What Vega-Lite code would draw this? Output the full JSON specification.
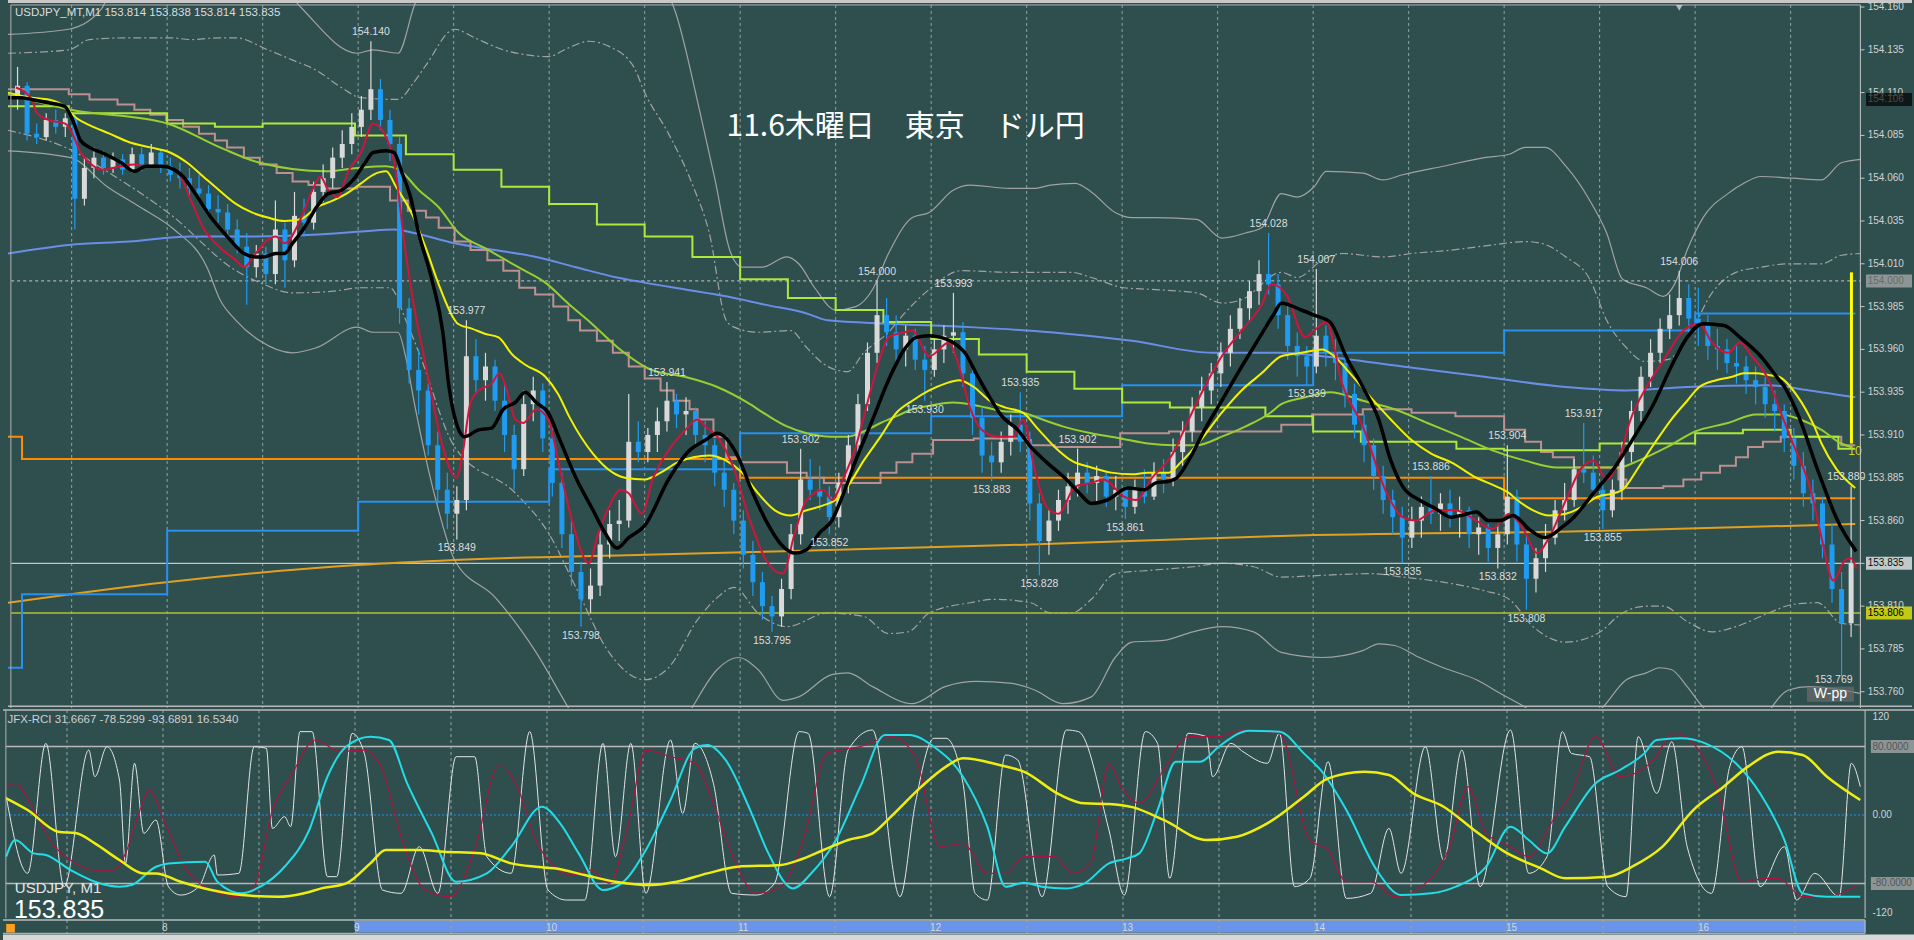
{
"$schema":"https://vega.github.io/schema/vega-lite/v6.json",
"background":"#2f4f4f","padding":0,"spacing":0,"bounds":"flush",
"config":{"view":{"stroke":null},"axis":{"disable":true},"legend":{"disable":true},"text":{"font":"Liberation Sans"}},
"datasets":{
"one":[{}],
"g":[{"t":-30},{"t":0},{"t":30},{"t":60},{"t":90},{"t":120},{"t":150},{"t":180},{"t":210},{"t":240},{"t":270},{"t":300},{"t":330},{"t":360},{"t":390},{"t":420},{"t":450},{"t":480},{"t":510}],
"hr":[{"t":0,"s":"8"},{"t":60,"s":"9"},{"t":120,"s":"10"},{"t":180,"s":"11"},{"t":240,"s":"12"},{"t":300,"s":"13"},{"t":360,"s":"14"},{"t":420,"s":"15"},{"t":480,"s":"16"}],
"ax":[{"p":154.160},{"p":154.135},{"p":154.110},{"p":154.085},{"p":154.060},{"p":154.035},{"p":154.010},{"p":153.985},{"p":153.960},{"p":153.935},{"p":153.910},{"p":153.885},{"p":153.860},{"p":153.835},{"p":153.810},{"p":153.785},{"p":153.760}],
"bx":[{"p":154.106,"s":"154.106"},{"p":154.000,"s":"154.000"},{"p":153.835,"s":"153.835"},{"p":153.806,"s":"153.806"}],
"ob":[{"v":80,"s":"80.0000"},{"v":-80,"s":"-80.0000"}],
"ol":[{"v":115,"s":"120"},{"v":0,"s":"0.00"},{"v":-114,"s":"-120"}],
"lbl":[{"t":64,"p":154.140,"s":"154.140","k":"h"},{"t":94,"p":153.977,"s":"153.977","k":"h"},{"t":91,"p":153.849,"s":"153.849","k":"l"},{"t":130,"p":153.798,"s":"153.798","k":"l"},{"t":157,"p":153.941,"s":"153.941","k":"h"},{"t":190,"p":153.795,"s":"153.795","k":"l"},{"t":199,"p":153.902,"s":"153.902","k":"h"},{"t":208,"p":153.852,"s":"153.852","k":"l"},{"t":223,"p":154.000,"s":"154.000","k":"h"},{"t":247,"p":153.993,"s":"153.993","k":"h"},{"t":238,"p":153.930,"s":"153.930","k":"l"},{"t":268,"p":153.935,"s":"153.935","k":"h"},{"t":259,"p":153.883,"s":"153.883","k":"l"},{"t":274,"p":153.828,"s":"153.828","k":"l"},{"t":286,"p":153.902,"s":"153.902","k":"h"},{"t":301,"p":153.861,"s":"153.861","k":"l"},{"t":346,"p":154.028,"s":"154.028","k":"h"},{"t":361,"p":154.007,"s":"154.007","k":"h"},{"t":358,"p":153.939,"s":"153.939","k":"l"},{"t":397,"p":153.886,"s":"153.886","k":"h"},{"t":388,"p":153.835,"s":"153.835","k":"l"},{"t":421,"p":153.904,"s":"153.904","k":"h"},{"t":418,"p":153.832,"s":"153.832","k":"l"},{"t":427,"p":153.808,"s":"153.808","k":"l"},{"t":445,"p":153.917,"s":"153.917","k":"h"},{"t":451,"p":153.855,"s":"153.855","k":"l"},{"t":475,"p":154.006,"s":"154.006","k":"h"},{"t":527.5,"p":153.880,"s":"153.880","k":"h"},{"t":523.5,"p":153.772,"s":"153.769","k":"l"}],
"cd":[
{"t":-47,"o":154.108,"h":154.125,"l":154.100,"c":154.114},{"t":-44,"o":154.114,"h":154.116,"l":154.082,"c":154.086},{"t":-41,"o":154.086,"h":154.092,"l":154.080,"c":154.084},{"t":-38,"o":154.084,"h":154.098,"l":154.082,"c":154.094},{"t":-35,"o":154.094,"h":154.100,"l":154.086,"c":154.090},{"t":-32,"o":154.090,"h":154.098,"l":154.084,"c":154.095},{"t":-29,"o":154.095,"h":154.097,"l":154.030,"c":154.048},{"t":-26,"o":154.048,"h":154.072,"l":154.044,"c":154.066},{"t":-23,"o":154.066,"h":154.078,"l":154.060,"c":154.072},{"t":-20,"o":154.072,"h":154.076,"l":154.062,"c":154.066},{"t":-17,"o":154.066,"h":154.075,"l":154.063,"c":154.071},{"t":-14,"o":154.071,"h":154.074,"l":154.062,"c":154.065},{"t":-11,"o":154.065,"h":154.078,"l":154.063,"c":154.074},{"t":-8,"o":154.074,"h":154.078,"l":154.064,"c":154.068},{"t":-5,"o":154.068,"h":154.080,"l":154.066,"c":154.075},{"t":-2,"o":154.075,"h":154.077,"l":154.063,"c":154.067},
{"t":1,"o":154.067,"h":154.072,"l":154.058,"c":154.062},{"t":4,"o":154.062,"h":154.069,"l":154.054,"c":154.060},{"t":7,"o":154.060,"h":154.066,"l":154.050,"c":154.054},{"t":10,"o":154.054,"h":154.062,"l":154.046,"c":154.051},{"t":13,"o":154.051,"h":154.056,"l":154.038,"c":154.042},{"t":16,"o":154.042,"h":154.050,"l":154.034,"c":154.040},{"t":19,"o":154.040,"h":154.045,"l":154.026,"c":154.030},{"t":22,"o":154.030,"h":154.036,"l":154.016,"c":154.020},{"t":25,"o":154.020,"h":154.028,"l":153.986,"c":154.008},{"t":28,"o":154.008,"h":154.021,"l":154.002,"c":154.016},{"t":31,"o":154.016,"h":154.020,"l":153.998,"c":154.004},{"t":34,"o":154.004,"h":154.047,"l":153.998,"c":154.030},{"t":37,"o":154.030,"h":154.034,"l":153.996,"c":154.012},{"t":40,"o":154.012,"h":154.052,"l":154.008,"c":154.038},{"t":43,"o":154.038,"h":154.048,"l":154.026,"c":154.034},{"t":46,"o":154.034,"h":154.058,"l":154.030,"c":154.052},{"t":49,"o":154.052,"h":154.068,"l":154.046,"c":154.060},{"t":52,"o":154.060,"h":154.078,"l":154.054,"c":154.072},{"t":55,"o":154.072,"h":154.088,"l":154.066,"c":154.080},{"t":58,"o":154.080,"h":154.098,"l":154.074,"c":154.090},
{"t":61,"o":154.090,"h":154.108,"l":154.084,"c":154.100},{"t":64,"o":154.100,"h":154.140,"l":154.094,"c":154.112},{"t":67,"o":154.112,"h":154.118,"l":154.088,"c":154.094},{"t":70,"o":154.094,"h":154.100,"l":154.070,"c":154.080},{"t":73,"o":154.080,"h":154.084,"l":153.975,"c":153.984},{"t":76,"o":153.984,"h":153.990,"l":153.940,"c":153.948},{"t":79,"o":153.948,"h":153.960,"l":153.922,"c":153.936},{"t":82,"o":153.936,"h":153.940,"l":153.898,"c":153.904},{"t":85,"o":153.904,"h":153.912,"l":153.870,"c":153.878},{"t":88,"o":153.878,"h":153.888,"l":153.855,"c":153.864},{"t":91,"o":153.864,"h":153.880,"l":153.849,"c":153.872},{"t":94,"o":153.872,"h":153.977,"l":153.866,"c":153.956},{"t":97,"o":153.956,"h":153.966,"l":153.934,"c":153.942},{"t":100,"o":153.942,"h":153.958,"l":153.930,"c":153.950},{"t":103,"o":153.950,"h":153.954,"l":153.924,"c":153.930},{"t":106,"o":153.930,"h":153.940,"l":153.900,"c":153.910},{"t":109,"o":153.910,"h":153.916,"l":153.878,"c":153.890},{"t":112,"o":153.890,"h":153.936,"l":153.886,"c":153.928},{"t":115,"o":153.928,"h":153.944,"l":153.918,"c":153.936},{"t":118,"o":153.936,"h":153.940,"l":153.900,"c":153.908},
{"t":121,"o":153.908,"h":153.914,"l":153.874,"c":153.882},{"t":124,"o":153.882,"h":153.888,"l":153.844,"c":153.852},{"t":127,"o":153.852,"h":153.860,"l":153.822,"c":153.830},{"t":130,"o":153.830,"h":153.836,"l":153.798,"c":153.814},{"t":133,"o":153.814,"h":153.832,"l":153.806,"c":153.822},{"t":136,"o":153.822,"h":153.854,"l":153.816,"c":153.846},{"t":139,"o":153.846,"h":153.866,"l":153.838,"c":153.858},{"t":142,"o":153.858,"h":153.872,"l":153.848,"c":153.860},{"t":145,"o":153.860,"h":153.934,"l":153.856,"c":153.906},{"t":148,"o":153.906,"h":153.918,"l":153.894,"c":153.900},{"t":151,"o":153.900,"h":153.914,"l":153.894,"c":153.910},{"t":154,"o":153.910,"h":153.926,"l":153.900,"c":153.918},{"t":157,"o":153.918,"h":153.941,"l":153.912,"c":153.930},{"t":160,"o":153.930,"h":153.934,"l":153.914,"c":153.922},{"t":163,"o":153.922,"h":153.932,"l":153.910,"c":153.924},{"t":166,"o":153.924,"h":153.926,"l":153.904,"c":153.910},{"t":169,"o":153.910,"h":153.918,"l":153.894,"c":153.904},{"t":172,"o":153.904,"h":153.908,"l":153.880,"c":153.888},{"t":175,"o":153.888,"h":153.896,"l":153.868,"c":153.878},{"t":178,"o":153.878,"h":153.882,"l":153.852,"c":153.860},
{"t":181,"o":153.860,"h":153.866,"l":153.832,"c":153.840},{"t":184,"o":153.840,"h":153.848,"l":153.816,"c":153.824},{"t":187,"o":153.824,"h":153.830,"l":153.802,"c":153.810},{"t":190,"o":153.810,"h":153.816,"l":153.795,"c":153.804},{"t":193,"o":153.804,"h":153.826,"l":153.798,"c":153.820},{"t":196,"o":153.820,"h":153.858,"l":153.814,"c":153.852},{"t":199,"o":153.852,"h":153.902,"l":153.846,"c":153.884},{"t":202,"o":153.884,"h":153.896,"l":153.872,"c":153.878},{"t":205,"o":153.878,"h":153.892,"l":153.866,"c":153.874},{"t":208,"o":153.874,"h":153.880,"l":153.852,"c":153.862},{"t":211,"o":153.862,"h":153.888,"l":153.856,"c":153.882},{"t":214,"o":153.882,"h":153.910,"l":153.876,"c":153.904},{"t":217,"o":153.904,"h":153.934,"l":153.900,"c":153.928},{"t":220,"o":153.928,"h":153.964,"l":153.924,"c":153.958},{"t":223,"o":153.958,"h":154.000,"l":153.952,"c":153.980},{"t":226,"o":153.980,"h":153.990,"l":153.962,"c":153.970},{"t":229,"o":153.970,"h":153.980,"l":153.952,"c":153.960},{"t":232,"o":153.960,"h":153.974,"l":153.950,"c":153.968},{"t":235,"o":153.968,"h":153.972,"l":153.948,"c":153.954},{"t":238,"o":153.954,"h":153.962,"l":153.930,"c":153.948},
{"t":241,"o":153.948,"h":153.966,"l":153.944,"c":153.960},{"t":244,"o":153.960,"h":153.974,"l":153.952,"c":153.968},{"t":247,"o":153.968,"h":153.993,"l":153.958,"c":153.970},{"t":250,"o":153.970,"h":153.976,"l":153.938,"c":153.946},{"t":253,"o":153.946,"h":153.952,"l":153.910,"c":153.920},{"t":256,"o":153.920,"h":153.926,"l":153.888,"c":153.898},{"t":259,"o":153.898,"h":153.906,"l":153.883,"c":153.894},{"t":262,"o":153.894,"h":153.912,"l":153.888,"c":153.906},{"t":265,"o":153.906,"h":153.922,"l":153.898,"c":153.916},{"t":268,"o":153.916,"h":153.935,"l":153.900,"c":153.906},{"t":271,"o":153.906,"h":153.912,"l":153.860,"c":153.870},{"t":274,"o":153.870,"h":153.876,"l":153.828,"c":153.848},{"t":277,"o":153.848,"h":153.866,"l":153.840,"c":153.860},{"t":280,"o":153.860,"h":153.878,"l":153.854,"c":153.872},{"t":283,"o":153.872,"h":153.888,"l":153.864,"c":153.880},{"t":286,"o":153.880,"h":153.902,"l":153.874,"c":153.888},{"t":289,"o":153.888,"h":153.894,"l":153.876,"c":153.882},{"t":292,"o":153.882,"h":153.892,"l":153.870,"c":153.886},{"t":295,"o":153.886,"h":153.888,"l":153.868,"c":153.874},{"t":298,"o":153.874,"h":153.886,"l":153.866,"c":153.878},
{"t":301,"o":153.878,"h":153.880,"l":153.861,"c":153.868},{"t":304,"o":153.868,"h":153.884,"l":153.864,"c":153.878},{"t":307,"o":153.878,"h":153.890,"l":153.870,"c":153.874},{"t":310,"o":153.874,"h":153.894,"l":153.872,"c":153.888},{"t":313,"o":153.888,"h":153.896,"l":153.876,"c":153.884},{"t":316,"o":153.884,"h":153.908,"l":153.880,"c":153.900},{"t":319,"o":153.900,"h":153.918,"l":153.892,"c":153.912},{"t":322,"o":153.912,"h":153.932,"l":153.906,"c":153.926},{"t":325,"o":153.926,"h":153.944,"l":153.918,"c":153.936},{"t":328,"o":153.936,"h":153.952,"l":153.928,"c":153.946},{"t":331,"o":153.946,"h":153.964,"l":153.938,"c":153.958},{"t":334,"o":153.958,"h":153.980,"l":153.950,"c":153.972},{"t":337,"o":153.972,"h":153.990,"l":153.966,"c":153.984},{"t":340,"o":153.984,"h":154.000,"l":153.976,"c":153.994},{"t":343,"o":153.994,"h":154.012,"l":153.986,"c":154.004},{"t":346,"o":154.004,"h":154.028,"l":153.992,"c":153.998},{"t":349,"o":153.998,"h":154.004,"l":153.972,"c":153.980},{"t":352,"o":153.980,"h":153.986,"l":153.954,"c":153.962},{"t":355,"o":153.962,"h":153.970,"l":153.944,"c":153.956},{"t":358,"o":153.956,"h":153.962,"l":153.939,"c":153.950},
{"t":361,"o":153.950,"h":154.007,"l":153.946,"c":153.968},{"t":364,"o":153.968,"h":153.974,"l":153.950,"c":153.958},{"t":367,"o":153.958,"h":153.966,"l":153.942,"c":153.952},{"t":370,"o":153.952,"h":153.956,"l":153.926,"c":153.934},{"t":373,"o":153.934,"h":153.940,"l":153.908,"c":153.916},{"t":376,"o":153.916,"h":153.922,"l":153.894,"c":153.904},{"t":379,"o":153.904,"h":153.908,"l":153.878,"c":153.886},{"t":382,"o":153.886,"h":153.892,"l":153.864,"c":153.872},{"t":385,"o":153.872,"h":153.878,"l":153.852,"c":153.862},{"t":388,"o":153.862,"h":153.868,"l":153.835,"c":153.850},{"t":391,"o":153.850,"h":153.868,"l":153.844,"c":153.860},{"t":394,"o":153.860,"h":153.874,"l":153.850,"c":153.868},{"t":397,"o":153.868,"h":153.886,"l":153.858,"c":153.864},{"t":400,"o":153.864,"h":153.876,"l":153.854,"c":153.870},{"t":403,"o":153.870,"h":153.878,"l":153.856,"c":153.862},{"t":406,"o":153.862,"h":153.874,"l":153.850,"c":153.866},{"t":409,"o":153.866,"h":153.868,"l":153.844,"c":153.852},{"t":412,"o":153.852,"h":153.862,"l":153.840,"c":153.856},{"t":415,"o":153.856,"h":153.858,"l":153.836,"c":153.844},{"t":418,"o":153.844,"h":153.858,"l":153.832,"c":153.852},
{"t":421,"o":153.852,"h":153.904,"l":153.846,"c":153.874},{"t":424,"o":153.874,"h":153.878,"l":153.836,"c":153.846},{"t":427,"o":153.846,"h":153.852,"l":153.808,"c":153.826},{"t":430,"o":153.826,"h":153.844,"l":153.818,"c":153.838},{"t":433,"o":153.838,"h":153.858,"l":153.830,"c":153.850},{"t":436,"o":153.850,"h":153.872,"l":153.846,"c":153.866},{"t":439,"o":153.866,"h":153.882,"l":153.860,"c":153.872},{"t":442,"o":153.872,"h":153.896,"l":153.868,"c":153.890},{"t":445,"o":153.890,"h":153.917,"l":153.882,"c":153.888},{"t":448,"o":153.888,"h":153.898,"l":153.872,"c":153.878},{"t":451,"o":153.878,"h":153.884,"l":153.855,"c":153.866},{"t":454,"o":153.866,"h":153.884,"l":153.862,"c":153.878},{"t":457,"o":153.878,"h":153.906,"l":153.872,"c":153.900},{"t":460,"o":153.900,"h":153.930,"l":153.894,"c":153.924},{"t":463,"o":153.924,"h":153.950,"l":153.918,"c":153.944},{"t":466,"o":153.944,"h":153.966,"l":153.938,"c":153.958},{"t":469,"o":153.958,"h":153.978,"l":153.952,"c":153.972},{"t":472,"o":153.972,"h":153.992,"l":153.966,"c":153.980},{"t":475,"o":153.980,"h":154.006,"l":153.974,"c":153.990},{"t":478,"o":153.990,"h":153.998,"l":153.970,"c":153.978},
{"t":481,"o":153.978,"h":153.996,"l":153.962,"c":153.974},{"t":484,"o":153.974,"h":153.980,"l":153.954,"c":153.962},{"t":487,"o":153.962,"h":153.972,"l":153.948,"c":153.960},{"t":490,"o":153.960,"h":153.966,"l":153.946,"c":153.952},{"t":493,"o":153.952,"h":153.962,"l":153.940,"c":153.950},{"t":496,"o":153.950,"h":153.956,"l":153.934,"c":153.942},{"t":499,"o":153.942,"h":153.950,"l":153.928,"c":153.938},{"t":502,"o":153.938,"h":153.944,"l":153.920,"c":153.928},{"t":505,"o":153.928,"h":153.936,"l":153.912,"c":153.924},{"t":508,"o":153.924,"h":153.928,"l":153.900,"c":153.908},{"t":511,"o":153.908,"h":153.914,"l":153.884,"c":153.892},{"t":514,"o":153.892,"h":153.900,"l":153.868,"c":153.876},{"t":517,"o":153.876,"h":153.884,"l":153.860,"c":153.870},{"t":520,"o":153.870,"h":153.874,"l":153.838,"c":153.846},{"t":523,"o":153.846,"h":153.858,"l":153.812,"c":153.820},{"t":526,"o":153.820,"h":153.830,"l":153.769,"c":153.800},{"t":529,"o":153.800,"h":153.880,"l":153.792,"c":153.835}],
"red":[{"t":-47.5,"p":154.113},{"t":-42.5,"p":154.106},{"t":-40.9,"p":154.098},{"t":-37.2,"p":154.094},{"t":-32.2,"p":154.092},{"t":-30.3,"p":154.088},{"t":-27.2,"p":154.075},{"t":-24.4,"p":154.069},{"t":-20.6,"p":154.065},{"t":-14.4,"p":154.067},{"t":-10.3,"p":154.068},{"t":-6.6,"p":154.067},{"t":-1.6,"p":154.067},{"t":3.4,"p":154.063},{"t":7.5,"p":154.047},{"t":11.3,"p":154.031},{"t":16.3,"p":154.020},{"t":21.6,"p":154.012},{"t":24.1,"p":154.008},{"t":27.8,"p":154.016},{"t":31.6,"p":154.024},{"t":34.1,"p":154.026},{"t":36.9,"p":154.022},{"t":41.9,"p":154.036},{"t":45.6,"p":154.053},{"t":48.1,"p":154.061},{"t":50.6,"p":154.053},{"t":53.4,"p":154.049},{"t":57.2,"p":154.065},{"t":60.9,"p":154.075},{"t":64.7,"p":154.092},{"t":68.8,"p":154.084},{"t":71.9,"p":154.063},{"t":74.1,"p":154.028},{"t":77.2,"p":153.989},{"t":81.3,"p":153.950},{"t":83.4,"p":153.930},{"t":86.6,"p":153.903},{"t":90.9,"p":153.885},{"t":92.8,"p":153.899},{"t":95.3,"p":153.929},{"t":97.8,"p":153.936},{"t":101.9,"p":153.940},{"t":104.4,"p":153.946},{"t":106.9,"p":153.935},{"t":109.4,"p":153.919},{"t":111.9,"p":153.917},{"t":115.9,"p":153.925},{"t":119.7,"p":153.919},{"t":123.4,"p":153.890},{"t":127.2,"p":153.860},{"t":132.5,"p":153.835},{"t":135,"p":153.850},{"t":138.8,"p":153.868},{"t":142.5,"p":153.878},{"t":145,"p":153.876},{"t":149.1,"p":153.864},{"t":152.5,"p":153.884},{"t":157.5,"p":153.901},{"t":162.8,"p":153.913},{"t":166.6,"p":153.919},{"t":169.1,"p":153.915},{"t":172.8,"p":153.909},{"t":178.1,"p":153.890},{"t":183.1,"p":153.860},{"t":188.1,"p":153.837},{"t":193.4,"p":153.829},{"t":197.2,"p":153.853},{"t":200.9,"p":153.872},{"t":206.3,"p":153.878},{"t":208.8,"p":153.872},{"t":212.5,"p":153.885},{"t":216.3,"p":153.903},{"t":220,"p":153.929},{"t":224.1,"p":153.956},{"t":226.6,"p":153.967},{"t":231.6,"p":153.970},{"t":234.1,"p":153.971},{"t":239.4,"p":153.956},{"t":245.6,"p":153.964},{"t":248.1,"p":153.954},{"t":252.2,"p":153.926},{"t":255.9,"p":153.913},{"t":260.9,"p":153.909},{"t":265.9,"p":153.909},{"t":268.8,"p":153.919},{"t":272.5,"p":153.890},{"t":276.3,"p":153.868},{"t":280,"p":153.864},{"t":285.3,"p":153.880},{"t":290.3,"p":153.882},{"t":294.1,"p":153.884},{"t":300.6,"p":153.874},{"t":304.4,"p":153.872},{"t":309.4,"p":153.885},{"t":315.9,"p":153.899},{"t":320.9,"p":153.919},{"t":325.9,"p":153.938},{"t":331.3,"p":153.956},{"t":337.5,"p":153.971},{"t":343.8,"p":153.986},{"t":346.9,"p":153.998},{"t":351.6,"p":153.992},{"t":357.5,"p":153.967},{"t":360.3,"p":153.971},{"t":364.1,"p":153.976},{"t":369.1,"p":153.940},{"t":375.6,"p":153.915},{"t":383.1,"p":153.876},{"t":388.1,"p":153.862},{"t":392.2,"p":153.860},{"t":398.4,"p":153.866},{"t":404.7,"p":153.866},{"t":411.3,"p":153.860},{"t":416.3,"p":153.855},{"t":421.6,"p":153.864},{"t":426.6,"p":153.853},{"t":430.3,"p":153.841},{"t":434.1,"p":153.850},{"t":439.4,"p":153.872},{"t":444.4,"p":153.891},{"t":448.1,"p":153.895},{"t":452.2,"p":153.884},{"t":455.9,"p":153.895},{"t":459.7,"p":153.919},{"t":464.7,"p":153.938},{"t":468.8,"p":153.950},{"t":472.5,"p":153.961},{"t":476.3,"p":153.971},{"t":481.3,"p":153.975},{"t":485.3,"p":153.964},{"t":490.3,"p":153.958},{"t":494.1,"p":153.964},{"t":497.8,"p":153.956},{"t":503.1,"p":153.942},{"t":506.3,"p":153.926},{"t":510.3,"p":153.907},{"t":516.6,"p":153.876},{"t":519.7,"p":153.850},{"t":523.4,"p":153.825},{"t":527.2,"p":153.837},{"t":529,"p":153.838},{"t":530.6,"p":153.832}],
"blk":[{"t":-50,"p":154.107},{"t":-46.3,"p":154.107},{"t":-42.5,"p":154.106},{"t":-37.2,"p":154.104},{"t":-32.2,"p":154.102},{"t":-29.7,"p":154.094},{"t":-27.2,"p":154.082},{"t":-24.4,"p":154.078},{"t":-19.4,"p":154.074},{"t":-14.4,"p":154.069},{"t":-10.3,"p":154.064},{"t":-6.6,"p":154.067},{"t":-1.6,"p":154.067},{"t":2.2,"p":154.065},{"t":5,"p":154.061},{"t":8.8,"p":154.051},{"t":13.8,"p":154.037},{"t":18.8,"p":154.026},{"t":24.1,"p":154.016},{"t":27.8,"p":154.014},{"t":30.3,"p":154.014},{"t":34.1,"p":154.016},{"t":36.9,"p":154.016},{"t":39.4,"p":154.022},{"t":43.1,"p":154.031},{"t":46.9,"p":154.043},{"t":50.6,"p":154.051},{"t":54.7,"p":154.053},{"t":58.4,"p":154.059},{"t":62.2,"p":154.069},{"t":64.7,"p":154.075},{"t":68.8,"p":154.076},{"t":71.3,"p":154.075},{"t":73.8,"p":154.063},{"t":76.3,"p":154.050},{"t":79,"p":154.028},{"t":83.4,"p":153.999},{"t":86.6,"p":153.970},{"t":88.4,"p":153.940},{"t":91.6,"p":153.913},{"t":93.4,"p":153.909},{"t":97.8,"p":153.913},{"t":101.9,"p":153.914},{"t":105.6,"p":153.925},{"t":109.4,"p":153.929},{"t":112.5,"p":153.935},{"t":115.9,"p":153.929},{"t":119.7,"p":153.923},{"t":123.4,"p":153.907},{"t":128.4,"p":153.885},{"t":133.8,"p":153.866},{"t":137.5,"p":153.853},{"t":141.3,"p":153.844},{"t":145,"p":153.850},{"t":150,"p":153.857},{"t":157.5,"p":153.884},{"t":164.1,"p":153.901},{"t":169.1,"p":153.907},{"t":172.8,"p":153.911},{"t":179.4,"p":153.897},{"t":183.1,"p":153.880},{"t":188.1,"p":153.860},{"t":193.4,"p":153.845},{"t":197.2,"p":153.841},{"t":200.9,"p":153.843},{"t":205,"p":153.853},{"t":208.8,"p":153.860},{"t":212.5,"p":153.876},{"t":216.3,"p":153.895},{"t":221.6,"p":153.919},{"t":226.6,"p":153.942},{"t":231.6,"p":153.960},{"t":235.3,"p":153.967},{"t":239.4,"p":153.968},{"t":243.1,"p":153.967},{"t":246.9,"p":153.964},{"t":250.6,"p":153.958},{"t":254.7,"p":153.944},{"t":258.4,"p":153.932},{"t":262.2,"p":153.921},{"t":267.2,"p":153.913},{"t":271.3,"p":153.903},{"t":276.3,"p":153.894},{"t":282.5,"p":153.884},{"t":286.6,"p":153.876},{"t":290.3,"p":153.870},{"t":295.3,"p":153.872},{"t":301.9,"p":153.879},{"t":306.9,"p":153.878},{"t":310.6,"p":153.882},{"t":314.7,"p":153.883},{"t":317.2,"p":153.885},{"t":320.9,"p":153.895},{"t":325.9,"p":153.913},{"t":331.3,"p":153.930},{"t":336.3,"p":153.946},{"t":342.5,"p":153.965},{"t":347.8,"p":153.981},{"t":350,"p":153.987},{"t":356.3,"p":153.983},{"t":360.3,"p":153.980},{"t":365.3,"p":153.976},{"t":370.3,"p":153.956},{"t":375.6,"p":153.938},{"t":380.6,"p":153.919},{"t":384.4,"p":153.895},{"t":388.1,"p":153.880},{"t":393.4,"p":153.872},{"t":398.4,"p":153.867},{"t":403.4,"p":153.862},{"t":406.3,"p":153.863},{"t":411.3,"p":153.865},{"t":415,"p":153.860},{"t":418.8,"p":153.860},{"t":422.8,"p":153.863},{"t":427.8,"p":153.855},{"t":432.8,"p":153.850},{"t":438.1,"p":153.856},{"t":441.9,"p":153.862},{"t":448.1,"p":153.876},{"t":454.7,"p":153.891},{"t":460.9,"p":153.909},{"t":467.2,"p":153.929},{"t":472.5,"p":153.950},{"t":477.5,"p":153.967},{"t":482.5,"p":153.975},{"t":489.1,"p":153.974},{"t":494.1,"p":153.967},{"t":500.6,"p":153.956},{"t":505.6,"p":153.944},{"t":508.1,"p":153.938},{"t":512.5,"p":153.921},{"t":518.8,"p":153.888},{"t":525,"p":153.859},{"t":530.6,"p":153.842}],
"yel":[{"t":-50,"p":154.110},{"t":-42.5,"p":154.107},{"t":-37.2,"p":154.106},{"t":-32.2,"p":154.102},{"t":-28.4,"p":154.095},{"t":-24.4,"p":154.091},{"t":-18.1,"p":154.086},{"t":-11.9,"p":154.081},{"t":-5.3,"p":154.078},{"t":0.9,"p":154.075},{"t":6.3,"p":154.069},{"t":11.3,"p":154.061},{"t":16.3,"p":154.053},{"t":21.6,"p":154.045},{"t":26.6,"p":154.040},{"t":31.6,"p":154.037},{"t":36.9,"p":154.035},{"t":41.9,"p":154.036},{"t":46.9,"p":154.043},{"t":52.2,"p":154.047},{"t":57.2,"p":154.052},{"t":60.9,"p":154.057},{"t":64.7,"p":154.062},{"t":68.8,"p":154.064},{"t":71.9,"p":154.055},{"t":77.2,"p":154.038},{"t":81.3,"p":154.019},{"t":85.3,"p":153.998},{"t":89.7,"p":153.979},{"t":91.3,"p":153.975},{"t":95.9,"p":153.972},{"t":100,"p":153.969},{"t":104.1,"p":153.967},{"t":108.4,"p":153.957},{"t":112.5,"p":153.951},{"t":118.8,"p":153.944},{"t":122.8,"p":153.934},{"t":126.5,"p":153.920},{"t":133.8,"p":153.899},{"t":140,"p":153.888},{"t":143.8,"p":153.885},{"t":150,"p":153.884},{"t":155,"p":153.888},{"t":160.3,"p":153.894},{"t":165.3,"p":153.897},{"t":170.3,"p":153.898},{"t":175.6,"p":153.895},{"t":180.6,"p":153.888},{"t":185.6,"p":153.876},{"t":190.9,"p":153.866},{"t":195.9,"p":153.863},{"t":200.9,"p":153.866},{"t":206.3,"p":153.869},{"t":210,"p":153.872},{"t":213.8,"p":153.880},{"t":218.8,"p":153.895},{"t":224.1,"p":153.909},{"t":229.1,"p":153.923},{"t":234.1,"p":153.930},{"t":239.4,"p":153.936},{"t":244.4,"p":153.940},{"t":248.8,"p":153.942},{"t":253.4,"p":153.938},{"t":258.4,"p":153.930},{"t":263.4,"p":153.926},{"t":268.8,"p":153.923},{"t":273.8,"p":153.913},{"t":278.8,"p":153.903},{"t":284.1,"p":153.895},{"t":290.3,"p":153.891},{"t":296.6,"p":153.888},{"t":303.1,"p":153.887},{"t":308.1,"p":153.888},{"t":314.7,"p":153.888},{"t":318.4,"p":153.894},{"t":324.7,"p":153.907},{"t":331.3,"p":153.923},{"t":337.5,"p":153.936},{"t":343.8,"p":153.946},{"t":350,"p":153.956},{"t":356.3,"p":153.958},{"t":362.8,"p":153.960},{"t":366.6,"p":153.956},{"t":371.6,"p":153.946},{"t":378.1,"p":153.932},{"t":384.4,"p":153.919},{"t":390.9,"p":153.907},{"t":397.2,"p":153.899},{"t":403.4,"p":153.894},{"t":411.3,"p":153.885},{"t":417.5,"p":153.880},{"t":421.6,"p":153.876},{"t":424.1,"p":153.872},{"t":429.1,"p":153.866},{"t":434.1,"p":153.863},{"t":439.4,"p":153.864},{"t":444.4,"p":153.868},{"t":449.4,"p":153.874},{"t":454.7,"p":153.876},{"t":457.2,"p":153.878},{"t":462.2,"p":153.891},{"t":467.2,"p":153.905},{"t":472.5,"p":153.919},{"t":477.5,"p":153.930},{"t":481.3,"p":153.938},{"t":486.6,"p":153.942},{"t":491.6,"p":153.944},{"t":495.3,"p":153.946},{"t":499.1,"p":153.946},{"t":503.1,"p":153.945},{"t":506.3,"p":153.944},{"t":512,"p":153.933},{"t":517.2,"p":153.916},{"t":519.7,"p":153.905},{"t":524.4,"p":153.890},{"t":530.3,"p":153.879}],
"ygr":[{"t":-50,"p":154.109},{"t":-30.3,"p":154.100},{"t":0,"p":154.092},{"t":16.6,"p":154.078},{"t":29.1,"p":154.069},{"t":50,"p":154.064},{"t":59.7,"p":154.066},{"t":68.8,"p":154.067},{"t":72.8,"p":154.065},{"t":79.1,"p":154.053},{"t":85.3,"p":154.043},{"t":91.6,"p":154.028},{"t":100,"p":154.019},{"t":110.3,"p":154.008},{"t":118.8,"p":153.999},{"t":125.9,"p":153.987},{"t":133.4,"p":153.975},{"t":141.6,"p":153.961},{"t":152.2,"p":153.948},{"t":162.5,"p":153.944},{"t":172.8,"p":153.938},{"t":182.2,"p":153.929},{"t":188.1,"p":153.922},{"t":194.7,"p":153.915},{"t":200.9,"p":153.911},{"t":208.8,"p":153.909},{"t":213.8,"p":153.909},{"t":218.8,"p":153.912},{"t":224.1,"p":153.917},{"t":229.1,"p":153.921},{"t":234.1,"p":153.925},{"t":239.4,"p":153.927},{"t":246.9,"p":153.929},{"t":252.2,"p":153.928},{"t":257.2,"p":153.926},{"t":262.2,"p":153.924},{"t":268.8,"p":153.923},{"t":275,"p":153.919},{"t":281.3,"p":153.915},{"t":290.3,"p":153.911},{"t":299.4,"p":153.908},{"t":308.1,"p":153.905},{"t":315.9,"p":153.904},{"t":323.4,"p":153.904},{"t":331.3,"p":153.909},{"t":338.8,"p":153.915},{"t":346.6,"p":153.923},{"t":350,"p":153.928},{"t":357.5,"p":153.932},{"t":365.3,"p":153.935},{"t":375.6,"p":153.930},{"t":385.6,"p":153.925},{"t":395.9,"p":153.917},{"t":406.3,"p":153.909},{"t":416.3,"p":153.901},{"t":426.6,"p":153.895},{"t":436.6,"p":153.891},{"t":446.9,"p":153.891},{"t":455.9,"p":153.891},{"t":462.2,"p":153.895},{"t":471.3,"p":153.903},{"t":480,"p":153.912},{"t":490.3,"p":153.917},{"t":499.1,"p":153.922},{"t":506.9,"p":153.922},{"t":513.1,"p":153.919},{"t":519.7,"p":153.913},{"t":525.9,"p":153.905},{"t":529,"p":153.903}],
"cfb":[{"t":-50,"p":154.016},{"t":-30.9,"p":154.021},{"t":-11.9,"p":154.023},{"t":7.5,"p":154.026},{"t":26.6,"p":154.026},{"t":45.6,"p":154.027},{"t":62.2,"p":154.029},{"t":71.3,"p":154.030},{"t":77.5,"p":154.028},{"t":90.3,"p":154.022},{"t":103.1,"p":154.018},{"t":115.9,"p":154.014},{"t":128.4,"p":154.008},{"t":141.3,"p":154.002},{"t":150,"p":153.999},{"t":162.8,"p":153.995},{"t":175.6,"p":153.991},{"t":188.1,"p":153.986},{"t":200.9,"p":153.981},{"t":207.5,"p":153.977},{"t":226.6,"p":153.975},{"t":252.2,"p":153.973},{"t":277.5,"p":153.970},{"t":303.1,"p":153.965},{"t":328.4,"p":153.958},{"t":350,"p":153.958},{"t":362.8,"p":153.956},{"t":388.1,"p":153.950},{"t":413.8,"p":153.944},{"t":439.4,"p":153.938},{"t":458.4,"p":153.936},{"t":477.5,"p":153.938},{"t":503.1,"p":153.939},{"t":515.9,"p":153.936},{"t":530.3,"p":153.932}],
"gold":[{"t":-50,"p":153.812},{"t":-0.3,"p":153.824},{"t":59.7,"p":153.834},{"t":90.3,"p":153.837},{"t":150,"p":153.840},{"t":271.3,"p":153.846},{"t":350,"p":153.851},{"t":452.2,"p":153.854},{"t":530.3,"p":153.858}],
"orng":[{"t":-50,"p":153.909},{"t":-45.6,"p":153.896},{"t":180,"p":153.885},{"t":420,"p":153.873},{"t":530.3,"p":153.873}],
"blue":[{"t":-50,"p":153.774},{"t":-45.6,"p":153.817},{"t":0,"p":153.854},{"t":60,"p":153.871},{"t":120,"p":153.890},{"t":180,"p":153.911},{"t":240,"p":153.921},{"t":300,"p":153.939},{"t":360,"p":153.958},{"t":420,"p":153.971},{"t":480,"p":153.981},{"t":530.3,"p":153.981}],
"lime":[{"t":-50,"p":154.102},{"t":-30.9,"p":154.098},{"t":0,"p":154.092},{"t":15,"p":154.090},{"t":30,"p":154.092},{"t":59,"p":154.085},{"t":75,"p":154.074},{"t":90,"p":154.065},{"t":105,"p":154.055},{"t":120,"p":154.045},{"t":135,"p":154.033},{"t":150,"p":154.026},{"t":165,"p":154.014},{"t":180,"p":154.001},{"t":195,"p":153.990},{"t":210,"p":153.983},{"t":225,"p":153.976},{"t":240,"p":153.966},{"t":255,"p":153.957},{"t":270,"p":153.947},{"t":285,"p":153.937},{"t":300,"p":153.929},{"t":315,"p":153.926},{"t":345,"p":153.921},{"t":360,"p":153.912},{"t":375,"p":153.906},{"t":405,"p":153.902},{"t":420,"p":153.901},{"t":450,"p":153.905},{"t":480,"p":153.911},{"t":495,"p":153.913},{"t":510,"p":153.909},{"t":525,"p":153.902},{"t":530.3,"p":153.902}],
"rosy":[{"t":-50,"p":154.112},{"t":-30.9,"p":154.109},{"t":-24.4,"p":154.106},{"t":-15.6,"p":154.103},{"t":-10.3,"p":154.100},{"t":-5.3,"p":154.097},{"t":-0.3,"p":154.094},{"t":5,"p":154.090},{"t":10,"p":154.086},{"t":15,"p":154.082},{"t":18.8,"p":154.078},{"t":24.1,"p":154.072},{"t":29.1,"p":154.068},{"t":34.4,"p":154.063},{"t":39.4,"p":154.058},{"t":44.4,"p":154.056},{"t":49.4,"p":154.054},{"t":59.7,"p":154.055},{"t":70,"p":154.047},{"t":75.6,"p":154.041},{"t":81.3,"p":154.037},{"t":85.3,"p":154.031},{"t":90.3,"p":154.023},{"t":95.3,"p":154.018},{"t":100.6,"p":154.012},{"t":105.6,"p":154.006},{"t":110.6,"p":153.996},{"t":115.6,"p":153.992},{"t":121.3,"p":153.985},{"t":126,"p":153.977},{"t":129.7,"p":153.971},{"t":135,"p":153.965},{"t":140,"p":153.958},{"t":145,"p":153.950},{"t":150,"p":153.943},{"t":155,"p":153.936},{"t":159.1,"p":153.930},{"t":164.1,"p":153.925},{"t":166.6,"p":153.919},{"t":171.6,"p":153.909},{"t":175.6,"p":153.897},{"t":180,"p":153.894},{"t":194.7,"p":153.888},{"t":200.9,"p":153.885},{"t":206.3,"p":153.882},{"t":218.8,"p":153.882},{"t":224.1,"p":153.888},{"t":229.1,"p":153.894},{"t":234.1,"p":153.899},{"t":240.6,"p":153.907},{"t":253.4,"p":153.908},{"t":268.8,"p":153.907},{"t":271.3,"p":153.904},{"t":278.8,"p":153.903},{"t":299.4,"p":153.911},{"t":314.7,"p":153.912},{"t":350,"p":153.916},{"t":359.7,"p":153.922},{"t":375.6,"p":153.925},{"t":390.9,"p":153.923},{"t":404.7,"p":153.921},{"t":420,"p":153.913},{"t":426.6,"p":153.906},{"t":431.6,"p":153.900},{"t":435.3,"p":153.897},{"t":441.9,"p":153.891},{"t":450.6,"p":153.891},{"t":455.9,"p":153.884},{"t":458.4,"p":153.879},{"t":470,"p":153.880},{"t":476.3,"p":153.884},{"t":481.9,"p":153.888},{"t":487.8,"p":153.892},{"t":492.8,"p":153.897},{"t":496.6,"p":153.903},{"t":501.3,"p":153.906},{"t":506.9,"p":153.909},{"t":515.9,"p":153.909},{"t":525.9,"p":153.904},{"t":530.3,"p":153.904}],
"u2":[{"t":-50,"p":154.144},{"t":-30.9,"p":154.147},{"t":-20.6,"p":154.159},{"t":-15,"p":154.180},{"t":30,"p":154.185},{"t":41.9,"p":154.160},{"t":59.7,"p":154.133},{"t":64.7,"p":154.135},{"t":72.5,"p":154.133},{"t":77.5,"p":154.160},{"t":90.6,"p":154.211},{"t":137.5,"p":154.211},{"t":159.1,"p":154.160},{"t":167.2,"p":154.100},{"t":172,"p":154.060},{"t":176.9,"p":154.017},{"t":180.6,"p":154.008},{"t":186.9,"p":154.008},{"t":194.7,"p":154.014},{"t":198.4,"p":154.010},{"t":203.4,"p":153.996},{"t":210,"p":153.983},{"t":216.3,"p":153.985},{"t":221.6,"p":153.995},{"t":226.6,"p":154.016},{"t":234.1,"p":154.037},{"t":239.4,"p":154.040},{"t":246.9,"p":154.053},{"t":252.2,"p":154.056},{"t":264.7,"p":154.054},{"t":272.5,"p":154.054},{"t":277.5,"p":154.056},{"t":285.3,"p":154.057},{"t":290.3,"p":154.052},{"t":297.8,"p":154.040},{"t":303.1,"p":154.037},{"t":310.6,"p":154.037},{"t":323.4,"p":154.036},{"t":331.3,"p":154.025},{"t":338.8,"p":154.028},{"t":343.8,"p":154.031},{"t":350,"p":154.051},{"t":355,"p":154.049},{"t":360.3,"p":154.055},{"t":364.1,"p":154.064},{"t":375.6,"p":154.063},{"t":381.9,"p":154.059},{"t":388.1,"p":154.062},{"t":400.9,"p":154.067},{"t":413.8,"p":154.072},{"t":421.6,"p":154.074},{"t":426.6,"p":154.078},{"t":432.8,"p":154.078},{"t":439.4,"p":154.067},{"t":446.9,"p":154.047},{"t":452.2,"p":154.028},{"t":457.2,"p":154.001},{"t":464.7,"p":153.996},{"t":470,"p":153.991},{"t":473.8,"p":153.999},{"t":477.5,"p":154.018},{"t":482.5,"p":154.037},{"t":490.3,"p":154.051},{"t":495.3,"p":154.057},{"t":500.6,"p":154.061},{"t":510.6,"p":154.060},{"t":519.7,"p":154.059},{"t":525.9,"p":154.069},{"t":531.9,"p":154.071}],
"u1":[{"t":-50,"p":154.133},{"t":-30.9,"p":154.135},{"t":-24.4,"p":154.141},{"t":-11.9,"p":154.142},{"t":0.9,"p":154.142},{"t":7.5,"p":154.141},{"t":16.3,"p":154.142},{"t":21.6,"p":154.142},{"t":31.6,"p":154.135},{"t":39.4,"p":154.129},{"t":46.9,"p":154.123},{"t":54.7,"p":154.113},{"t":60.9,"p":154.107},{"t":72.5,"p":154.106},{"t":77.5,"p":154.116},{"t":81.3,"p":154.126},{"t":90.3,"p":154.147},{"t":96.6,"p":154.142},{"t":105.6,"p":154.135},{"t":113.1,"p":154.132},{"t":119.7,"p":154.131},{"t":125.9,"p":154.136},{"t":132.5,"p":154.140},{"t":138.8,"p":154.137},{"t":146.6,"p":154.125},{"t":150,"p":154.110},{"t":157.5,"p":154.086},{"t":165.3,"p":154.055},{"t":170.3,"p":154.028},{"t":175.6,"p":153.977},{"t":178.1,"p":153.973},{"t":185.6,"p":153.970},{"t":195.9,"p":153.971},{"t":200.9,"p":153.961},{"t":207.5,"p":153.950},{"t":213.8,"p":153.947},{"t":218.8,"p":153.958},{"t":226.6,"p":153.970},{"t":231.6,"p":153.981},{"t":239.4,"p":153.995},{"t":249.4,"p":154.006},{"t":264.7,"p":154.005},{"t":284.1,"p":154.005},{"t":290.3,"p":154.002},{"t":300.6,"p":153.996},{"t":309.4,"p":153.995},{"t":323.4,"p":153.993},{"t":331.3,"p":153.987},{"t":337.5,"p":153.989},{"t":350,"p":154.005},{"t":355,"p":154.002},{"t":362.8,"p":154.012},{"t":369.1,"p":154.016},{"t":381.9,"p":154.014},{"t":390.9,"p":154.016},{"t":403.4,"p":154.018},{"t":416.3,"p":154.021},{"t":426.6,"p":154.023},{"t":431.6,"p":154.022},{"t":439.4,"p":154.014},{"t":446.9,"p":154.001},{"t":452.2,"p":153.977},{"t":458.4,"p":153.961},{"t":464.1,"p":153.953},{"t":471.3,"p":153.954},{"t":478.1,"p":153.968},{"t":485.3,"p":153.993},{"t":492.8,"p":154.005},{"t":500.6,"p":154.008},{"t":509.4,"p":154.010},{"t":519.7,"p":154.010},{"t":525.9,"p":154.015},{"t":531.9,"p":154.016}],
"l1":[{"t":-50,"p":154.088},{"t":-29.7,"p":154.076},{"t":-18.1,"p":154.063},{"t":0.9,"p":154.039},{"t":21.6,"p":154.006},{"t":29.1,"p":153.999},{"t":39.4,"p":153.993},{"t":52.2,"p":153.994},{"t":60.9,"p":153.996},{"t":70,"p":153.996},{"t":75,"p":153.977},{"t":79.1,"p":153.958},{"t":90.3,"p":153.903},{"t":109.4,"p":153.876},{"t":119.7,"p":153.853},{"t":128.4,"p":153.821},{"t":138.8,"p":153.783},{"t":150,"p":153.767},{"t":157.5,"p":153.774},{"t":166.6,"p":153.802},{"t":172.8,"p":153.815},{"t":178.1,"p":153.821},{"t":185.6,"p":153.806},{"t":194.7,"p":153.798},{"t":207.5,"p":153.806},{"t":218.8,"p":153.804},{"t":226.6,"p":153.794},{"t":232.8,"p":153.795},{"t":239.4,"p":153.806},{"t":252.2,"p":153.812},{"t":259.7,"p":153.814},{"t":271.3,"p":153.812},{"t":277.5,"p":153.806},{"t":284.1,"p":153.806},{"t":290.3,"p":153.814},{"t":297.8,"p":153.829},{"t":309.4,"p":153.831},{"t":322.2,"p":153.833},{"t":331.3,"p":153.835},{"t":341.3,"p":153.833},{"t":350,"p":153.827},{"t":362.8,"p":153.828},{"t":378.1,"p":153.829},{"t":388.1,"p":153.827},{"t":400.9,"p":153.824},{"t":413.8,"p":153.819},{"t":421.6,"p":153.814},{"t":429.1,"p":153.798},{"t":439.4,"p":153.789},{"t":449.4,"p":153.794},{"t":457.2,"p":153.806},{"t":464.7,"p":153.810},{"t":470,"p":153.810},{"t":477.5,"p":153.801},{"t":485.3,"p":153.795},{"t":492.8,"p":153.798},{"t":503.1,"p":153.806},{"t":510.6,"p":153.811},{"t":518.4,"p":153.812},{"t":525.9,"p":153.800},{"t":531.9,"p":153.799}],
"l2":[{"t":-50,"p":154.076},{"t":-30.3,"p":154.072},{"t":-18.8,"p":154.055},{"t":-8.4,"p":154.043},{"t":2.2,"p":154.030},{"t":12.5,"p":154.008},{"t":16.6,"p":153.989},{"t":21.6,"p":153.977},{"t":29.1,"p":153.965},{"t":39.4,"p":153.958},{"t":46.9,"p":153.961},{"t":59.7,"p":153.973},{"t":64.7,"p":153.970},{"t":72.5,"p":153.970},{"t":75,"p":153.955},{"t":77.5,"p":153.930},{"t":84.4,"p":153.872},{"t":90.3,"p":153.837},{"t":103.1,"p":153.815},{"t":115.9,"p":153.783},{"t":125.9,"p":153.751},{"t":131,"p":153.735},{"t":160,"p":153.735},{"t":165,"p":153.751},{"t":172.8,"p":153.773},{"t":179.4,"p":153.780},{"t":185.6,"p":153.773},{"t":193.4,"p":153.755},{"t":198.4,"p":153.757},{"t":208.8,"p":153.770},{"t":213.8,"p":153.771},{"t":221.6,"p":153.763},{"t":234.1,"p":153.753},{"t":244.4,"p":153.763},{"t":254.4,"p":153.766},{"t":264.7,"p":153.765},{"t":272.5,"p":153.761},{"t":281.3,"p":153.753},{"t":290.3,"p":153.757},{"t":297.8,"p":153.780},{"t":303.1,"p":153.789},{"t":313.1,"p":153.790},{"t":322.2,"p":153.795},{"t":331.3,"p":153.798},{"t":341.3,"p":153.795},{"t":350,"p":153.783},{"t":362.8,"p":153.780},{"t":375.6,"p":153.784},{"t":380.6,"p":153.788},{"t":385.6,"p":153.787},{"t":393.4,"p":153.780},{"t":400.9,"p":153.774},{"t":411.3,"p":153.767},{"t":418.8,"p":153.759},{"t":426.6,"p":153.751},{"t":437.5,"p":153.738},{"t":450,"p":153.749},{"t":458.4,"p":153.767},{"t":464.7,"p":153.771},{"t":468.8,"p":153.774},{"t":472.5,"p":153.773},{"t":477.5,"p":153.763},{"t":482.5,"p":153.751},{"t":496.9,"p":153.738},{"t":509.4,"p":153.761},{"t":515.9,"p":153.763},{"t":531.9,"p":153.759}],
"ry":[{"t":-49,"v":19.5},{"t":-42.3,"v":5.8},{"t":-32.8,"v":-19.5},{"t":-27,"v":-21.4},{"t":-21.3,"v":-33.1},{"t":-13.6,"v":-52.6},{"t":-6,"v":-68.2},{"t":-2.2,"v":-68.2},{"t":5.5,"v":-77.9},{"t":15.1,"v":-87.6},{"t":24.6,"v":-93.5},{"t":36.1,"v":-95.5},{"t":43.8,"v":-91.6},{"t":49.5,"v":-85.7},{"t":57.2,"v":-79.9},{"t":64.8,"v":-56.5},{"t":69.6,"v":-40.9},{"t":80.1,"v":-40.9},{"t":87.8,"v":-42.8},{"t":99.3,"v":-44.8},{"t":108.8,"v":-56.5},{"t":116.5,"v":-60.4},{"t":122.2,"v":-62.3},{"t":131.8,"v":-70.1},{"t":141.4,"v":-77.9},{"t":152.8,"v":-81.8},{"t":160.5,"v":-77.9},{"t":170.1,"v":-68.2},{"t":179.6,"v":-60.4},{"t":193,"v":-58.4},{"t":198.8,"v":-52.6},{"t":206.4,"v":-40.9},{"t":214.1,"v":-29.2},{"t":221.7,"v":-21.4},{"t":227.5,"v":-1.9},{"t":237,"v":33.1},{"t":244.7,"v":56.5},{"t":250,"v":66.2},{"t":261.4,"v":58.4},{"t":269,"v":50.6},{"t":280.4,"v":23.4},{"t":288,"v":13.6},{"t":295.6,"v":12.9},{"t":303.2,"v":8.9},{"t":312.7,"v":-5.8},{"t":326.1,"v":-29.2},{"t":335.6,"v":-25.3},{"t":345.1,"v":-9.7},{"t":356.5,"v":21.4},{"t":364.1,"v":42.8},{"t":375.5,"v":50.6},{"t":383.1,"v":46.7},{"t":390.7,"v":25.3},{"t":400.2,"v":9.7},{"t":409.7,"v":-17.5},{"t":419.2,"v":-42.8},{"t":430.6,"v":-62.3},{"t":438.2,"v":-73.9},{"t":451.5,"v":-72},{"t":459.1,"v":-60.4},{"t":468.6,"v":-37},{"t":478.2,"v":5.8},{"t":487.7,"v":33.1},{"t":495.3,"v":56.5},{"t":504.8,"v":74},{"t":512.4,"v":70.1},{"t":520,"v":44.8},{"t":530.4,"v":17.5}],
"rc":[{"t":-49,"v":-48.7},{"t":-46.2,"v":-29.2},{"t":-40.4,"v":-44.8},{"t":-36.6,"v":-46.7},{"t":-28.9,"v":-64.3},{"t":-21.3,"v":-77.9},{"t":-13.6,"v":-83.7},{"t":-9.8,"v":-81.8},{"t":-2.2,"v":-60.4},{"t":1.7,"v":-56.5},{"t":13.2,"v":-54.5},{"t":17,"v":-77.9},{"t":24.6,"v":-91.5},{"t":30.4,"v":-83.7},{"t":38,"v":-60.4},{"t":45.7,"v":-17.5},{"t":51.4,"v":44.8},{"t":57.2,"v":79.8},{"t":64.8,"v":91.5},{"t":70.6,"v":87.6},{"t":76.3,"v":37},{"t":84,"v":-21.4},{"t":91.6,"v":-77.9},{"t":101.2,"v":-68.1},{"t":108.8,"v":-37},{"t":118.4,"v":9.7},{"t":124.1,"v":-9.7},{"t":129.9,"v":-44.8},{"t":137.5,"v":-87.6},{"t":143.3,"v":-79.8},{"t":150.9,"v":-40.9},{"t":158.6,"v":17.5},{"t":166.2,"v":77.9},{"t":170.1,"v":81.8},{"t":175.8,"v":64.3},{"t":183.5,"v":5.8},{"t":189.2,"v":-44.8},{"t":196.9,"v":-85.7},{"t":202.6,"v":-68.1},{"t":210.3,"v":-29.2},{"t":217.9,"v":33.1},{"t":225.6,"v":93.5},{"t":233.2,"v":93.5},{"t":240.9,"v":79.8},{"t":250,"v":44.8},{"t":257.6,"v":-13.6},{"t":263.3,"v":-83.7},{"t":269,"v":-79.1},{"t":274.7,"v":-83.7},{"t":282.3,"v":-85.7},{"t":288,"v":-79.8},{"t":295.6,"v":-56.5},{"t":301.3,"v":-50.6},{"t":305.1,"v":-44.8},{"t":310.8,"v":5.8},{"t":316.5,"v":62.3},{"t":324.2,"v":62.3},{"t":329.9,"v":79.8},{"t":339.4,"v":98.5},{"t":348.9,"v":97.4},{"t":356.5,"v":72},{"t":362.2,"v":50.6},{"t":369.8,"v":5.8},{"t":379.3,"v":-64.3},{"t":386.9,"v":-93.5},{"t":396.4,"v":-91.5},{"t":404,"v":-83.7},{"t":413.5,"v":-60.4},{"t":421.1,"v":-13.6},{"t":426.8,"v":-29.2},{"t":432.5,"v":-44.8},{"t":438.2,"v":-13.6},{"t":447.7,"v":37},{"t":455.3,"v":52.6},{"t":462.9,"v":72},{"t":466.7,"v":87.6},{"t":474.4,"v":89.6},{"t":482,"v":83.7},{"t":491.5,"v":60.4},{"t":499.1,"v":25.3},{"t":506.7,"v":-29.2},{"t":512.4,"v":-91.5},{"t":520,"v":-95.4},{"t":530.4,"v":-95.4}],
"rr":[{"t":-49,"v":33.1},{"t":-46.2,"v":37},{"t":-40.4,"v":5.8},{"t":-34.7,"v":-33.1},{"t":-28.9,"v":-52.6},{"t":-21.3,"v":-64.3},{"t":-15.6,"v":-64.3},{"t":-11.7,"v":-44.8},{"t":-7.9,"v":-1.9},{"t":-4.1,"v":29.2},{"t":-0.2,"v":-1.9},{"t":7.4,"v":-64.3},{"t":15.1,"v":-87.6},{"t":22.7,"v":-95.4},{"t":28.5,"v":-83.7},{"t":34.2,"v":5.8},{"t":39.9,"v":44.8},{"t":47.6,"v":87.6},{"t":55.3,"v":74},{"t":62.9,"v":75.9},{"t":68.6,"v":52.6},{"t":74.4,"v":-25.3},{"t":82,"v":-87.6},{"t":89.7,"v":-95.4},{"t":97.4,"v":-40.9},{"t":105,"v":58.4},{"t":110.7,"v":33.1},{"t":116.5,"v":-29.2},{"t":122.2,"v":-60.4},{"t":128,"v":-70.1},{"t":133.7,"v":-64.3},{"t":139.5,"v":-79.8},{"t":145.2,"v":-13.6},{"t":150.9,"v":75.9},{"t":158.6,"v":68.1},{"t":166.2,"v":60.4},{"t":172,"v":13.6},{"t":177.7,"v":-44.8},{"t":185.4,"v":-91.5},{"t":193,"v":-83.7},{"t":200.7,"v":-21.4},{"t":207.4,"v":72},{"t":217.9,"v":79.8},{"t":227.5,"v":91.5},{"t":235.1,"v":68.1},{"t":242.8,"v":-37},{"t":250,"v":-33.1},{"t":257.6,"v":-68.1},{"t":263.3,"v":-68.1},{"t":269,"v":-48.7},{"t":278.5,"v":-48.7},{"t":284.2,"v":-68.1},{"t":289.9,"v":-56.5},{"t":295.6,"v":60.4},{"t":299.4,"v":33.1},{"t":305.1,"v":13.6},{"t":312.7,"v":52.6},{"t":320.3,"v":91.5},{"t":329.9,"v":91.5},{"t":337.5,"v":99.3},{"t":348.9,"v":95.4},{"t":358.4,"v":-29.2},{"t":364.1,"v":-40.9},{"t":369.8,"v":-77.9},{"t":377.4,"v":-77.9},{"t":385,"v":-95.4},{"t":394.5,"v":-79.8},{"t":402.1,"v":-37},{"t":407.8,"v":33.1},{"t":413.5,"v":-21.4},{"t":421.1,"v":-37},{"t":426.8,"v":-48.7},{"t":434.4,"v":-5.8},{"t":440.1,"v":25.3},{"t":447.7,"v":91.5},{"t":455.3,"v":44.8},{"t":464.8,"v":60.4},{"t":472.4,"v":95.4},{"t":478.2,"v":83.7},{"t":485.8,"v":29.2},{"t":493.4,"v":-77.9},{"t":501,"v":-74},{"t":504.8,"v":-74},{"t":512.4,"v":-95.4},{"t":520,"v":-95.4},{"t":529.5,"v":-81.8}],
"rw":[{"t":-49,"v":21.4},{"t":-42.3,"v":-68.1},{"t":-36.6,"v":83.7},{"t":-30.9,"v":-83.7},{"t":-23.2,"v":75.9},{"t":-21.3,"v":44.8},{"t":-17.5,"v":79.8},{"t":-13.6,"v":40.9},{"t":-11.7,"v":-56.5},{"t":-8.9,"v":60.4},{"t":-6,"v":-21.4},{"t":-2.2,"v":-5.8},{"t":1.7,"v":-83.7},{"t":5.5,"v":-93.5},{"t":11.2,"v":-83.7},{"t":16,"v":-46.7},{"t":17,"v":-70.1},{"t":23.7,"v":-68.1},{"t":28.5,"v":79.8},{"t":32.3,"v":77.9},{"t":34.2,"v":-15.6},{"t":38,"v":-1.9},{"t":39.9,"v":-13.6},{"t":42.8,"v":97.4},{"t":46.6,"v":97.4},{"t":51.4,"v":-72},{"t":54.3,"v":-72},{"t":59.1,"v":95.4},{"t":62.9,"v":72},{"t":68.6,"v":-87.6},{"t":74.4,"v":-91.5},{"t":80.1,"v":-37},{"t":85.9,"v":-91.5},{"t":91.6,"v":68.1},{"t":97.4,"v":68.1},{"t":101.2,"v":-48.7},{"t":108.8,"v":-68.1},{"t":114.6,"v":97.4},{"t":120.3,"v":-87.6},{"t":126.1,"v":-99.3},{"t":131.8,"v":-99.3},{"t":137.5,"v":83.7},{"t":141.4,"v":-48.7},{"t":146.2,"v":83.7},{"t":150.9,"v":-91.5},{"t":158.6,"v":87.6},{"t":162.4,"v":1.9},{"t":166.2,"v":83.7},{"t":172,"v":37},{"t":177.7,"v":-91.5},{"t":185.4,"v":-93.5},{"t":191.1,"v":-79.8},{"t":198.8,"v":97.4},{"t":201.6,"v":95.4},{"t":208.3,"v":-95.4},{"t":214.1,"v":75.9},{"t":221.7,"v":99.3},{"t":230.3,"v":-95.4},{"t":235.1,"v":13.6},{"t":240.9,"v":89.6},{"t":244.7,"v":89.6},{"t":250,"v":37},{"t":253.8,"v":-91.5},{"t":257.6,"v":-99.3},{"t":263.3,"v":70.1},{"t":267.1,"v":64.3},{"t":274.7,"v":-95.4},{"t":282.3,"v":99.3},{"t":286.1,"v":97.4},{"t":295.6,"v":-17.5},{"t":300.4,"v":-93.5},{"t":307,"v":97.4},{"t":310.8,"v":83.7},{"t":314.6,"v":-74},{"t":320.3,"v":95.4},{"t":326.1,"v":91.5},{"t":328,"v":44.8},{"t":333.7,"v":83.7},{"t":337.5,"v":74},{"t":345.1,"v":60.4},{"t":348.9,"v":95.4},{"t":353.6,"v":-83.7},{"t":358.4,"v":-74},{"t":364.1,"v":62.3},{"t":369.8,"v":-97.4},{"t":377.4,"v":-91.5},{"t":383.1,"v":-15.6},{"t":386.9,"v":-68.1},{"t":394.5,"v":79.8},{"t":400.2,"v":-52.6},{"t":405.9,"v":75.9},{"t":411.6,"v":-83.7},{"t":421.1,"v":99.3},{"t":426.8,"v":-68.1},{"t":432.5,"v":-48.7},{"t":437.3,"v":97.4},{"t":440.1,"v":72},{"t":445.8,"v":68.1},{"t":451.5,"v":-83.7},{"t":457.2,"v":-95.4},{"t":461,"v":91.5},{"t":466.8,"v":25.3},{"t":471.5,"v":85.7},{"t":476.3,"v":-37},{"t":483.9,"v":-91.5},{"t":489.6,"v":56.5},{"t":493.4,"v":79.8},{"t":499.1,"v":-83.7},{"t":506.7,"v":-37},{"t":510.5,"v":-99.3},{"t":516.2,"v":-68.1},{"t":523.8,"v":-95.4},{"t":527.6,"v":60.4},{"t":530.4,"v":33.1}]
},
"vconcat":[
{"width":1914,"height":708,
"layer":[
{"data":{"name":"g"},"mark":{"type":"rule","color":"#93a3a3","strokeWidth":1,"strokeDash":[3,3]},
 "encoding":{"x":{"field":"t","type":"quantitative","scale":{"domain":[-50,548.125],"nice":false,"zero":false}},"y":{"datum":154.1612,"scale":{"domain":[153.7505,154.1641],"nice":false,"zero":false}},"y2":{"datum":153.7505}}},
{"data":{"name":"u2"},"mark":{"type":"line","interpolate":"monotone","clip":true,"color":"#a2a2a2","strokeWidth":1.2},"encoding":{"x":{"field":"t","type":"quantitative"},"y":{"field":"p","type":"quantitative"}}},
{"data":{"name":"l2"},"mark":{"type":"line","interpolate":"monotone","clip":true,"color":"#a2a2a2","strokeWidth":1.2},"encoding":{"x":{"field":"t","type":"quantitative"},"y":{"field":"p","type":"quantitative"}}},
{"data":{"name":"u1"},"mark":{"type":"line","interpolate":"monotone","clip":true,"color":"#a2a2a2","strokeWidth":1.2,"strokeDash":[8,3,2,3]},"encoding":{"x":{"field":"t","type":"quantitative"},"y":{"field":"p","type":"quantitative"}}},
{"data":{"name":"l1"},"mark":{"type":"line","interpolate":"monotone","clip":true,"color":"#a2a2a2","strokeWidth":1.2,"strokeDash":[8,3,2,3]},"encoding":{"x":{"field":"t","type":"quantitative"},"y":{"field":"p","type":"quantitative"}}},
{"data":{"name":"one"},"mark":{"type":"rule","color":"#c8c8c8","strokeWidth":1,"strokeDash":[3,3]},"encoding":{"x":{"datum":-49},"x2":{"datum":531.9},"y":{"datum":154.000}}},
{"data":{"name":"one"},"mark":{"type":"rule","color":"#c4c4c4","strokeWidth":1.2},"encoding":{"x":{"datum":-49},"x2":{"datum":531.9},"y":{"datum":153.835}}},
{"data":{"name":"one"},"mark":{"type":"rule","color":"#b3c032","strokeWidth":1.6},"encoding":{"x":{"datum":-49},"x2":{"datum":531.9},"y":{"datum":153.806}}},
{"data":{"name":"gold"},"mark":{"type":"line","interpolate":"monotone","color":"#e3a020","strokeWidth":2},"encoding":{"x":{"field":"t","type":"quantitative"},"y":{"field":"p","type":"quantitative"}}},
{"data":{"name":"orng"},"mark":{"type":"line","interpolate":"step-after","color":"#ff8c00","strokeWidth":2},"encoding":{"x":{"field":"t","type":"quantitative"},"y":{"field":"p","type":"quantitative"}}},
{"data":{"name":"blue"},"mark":{"type":"line","interpolate":"step-after","color":"#2890ee","strokeWidth":2},"encoding":{"x":{"field":"t","type":"quantitative"},"y":{"field":"p","type":"quantitative"}}},
{"data":{"name":"cfb"},"mark":{"type":"line","interpolate":"monotone","color":"#6a8ee8","strokeWidth":2},"encoding":{"x":{"field":"t","type":"quantitative"},"y":{"field":"p","type":"quantitative"}}},
{"data":{"name":"rosy"},"mark":{"type":"line","interpolate":"step-after","color":"#bc9090","strokeWidth":2},"encoding":{"x":{"field":"t","type":"quantitative"},"y":{"field":"p","type":"quantitative"}}},
{"data":{"name":"lime"},"mark":{"type":"line","interpolate":"step-after","color":"#aee83a","strokeWidth":2},"encoding":{"x":{"field":"t","type":"quantitative"},"y":{"field":"p","type":"quantitative"}}},
{"data":{"name":"ygr"},"mark":{"type":"line","interpolate":"monotone","color":"#9acd32","strokeWidth":2},"encoding":{"x":{"field":"t","type":"quantitative"},"y":{"field":"p","type":"quantitative"}}},
{"data":{"name":"cd"},"mark":{"type":"rule","strokeWidth":1.2},"encoding":{"x":{"field":"t","type":"quantitative"},"y":{"field":"l","type":"quantitative"},"y2":{"field":"h"},"color":{"condition":{"test":"datum.c>=datum.o","value":"#d9d9d9"},"value":"#1f9cf2"}}},
{"data":{"name":"cd"},"mark":{"type":"bar","width":5},"encoding":{"x":{"field":"t","type":"quantitative"},"y":{"field":"o","type":"quantitative"},"y2":{"field":"c"},"color":{"condition":{"test":"datum.c>=datum.o","value":"#d9d9d9"},"value":"#1f9cf2"}}},
{"data":{"name":"yel"},"mark":{"type":"line","interpolate":"monotone","color":"#f2f200","strokeWidth":2},"encoding":{"x":{"field":"t","type":"quantitative"},"y":{"field":"p","type":"quantitative"}}},
{"data":{"name":"red"},"mark":{"type":"line","interpolate":"monotone","color":"#d0143c","strokeWidth":2},"encoding":{"x":{"field":"t","type":"quantitative"},"y":{"field":"p","type":"quantitative"}}},
{"data":{"name":"blk"},"mark":{"type":"line","interpolate":"monotone","color":"#000000","strokeWidth":3.5},"encoding":{"x":{"field":"t","type":"quantitative"},"y":{"field":"p","type":"quantitative"}}},
{"data":{"name":"one"},"mark":{"type":"rule","color":"#ffff00","strokeWidth":3},"encoding":{"x":{"datum":529.1},"y":{"datum":154.005},"y2":{"datum":153.905}}},
{"data":{"name":"one"},"mark":{"type":"text","color":"#cfd400","fontSize":12,"align":"center","baseline":"middle"},"encoding":{"x":{"datum":530.2},"y":{"datum":153.9005},"text":{"value":"10"}}},
{"data":{"name":"lbl"},"transform":[{"filter":"datum.k=='h'"}],"mark":{"type":"text","color":"#dedede","fontSize":10.5,"align":"center","baseline":"middle","dy":-9},"encoding":{"x":{"field":"t","type":"quantitative"},"y":{"field":"p","type":"quantitative"},"text":{"field":"s"}}},
{"data":{"name":"lbl"},"transform":[{"filter":"datum.k=='l'"}],"mark":{"type":"text","color":"#dedede","fontSize":10.5,"align":"center","baseline":"middle","dy":9},"encoding":{"x":{"field":"t","type":"quantitative"},"y":{"field":"p","type":"quantitative"},"text":{"field":"s"}}},
{"data":{"name":"one"},"mark":{"type":"text","color":"#ffffff","fontSize":30,"font":"Noto Sans CJK JP","align":"center","baseline":"middle"},"encoding":{"x":{"datum":232},"y":{"datum":154.090},"text":{"value":"11.6木曜日　東京　ドル円"}}},
{"data":{"name":"one"},"mark":{"type":"text","color":"#dcdcdc","fontSize":11.5,"align":"left","baseline":"middle"},"encoding":{"x":{"datum":-47.8},"y":{"datum":154.1565},"text":{"value":"USDJPY_MT,M1  153.814 153.838 153.814 153.835"}}},
{"data":{"name":"one"},"mark":{"type":"rect","color":"#c8c8c8"},"encoding":{"x":{"datum":-50},"x2":{"datum":548.125},"y":{"datum":154.1641},"y2":{"datum":154.1624}}},
{"data":{"name":"one"},"mark":{"type":"rule","color":"#b0b0b0","strokeWidth":1},"encoding":{"x":{"datum":-49.1},"x2":{"datum":531.9},"y":{"datum":154.1612}}},
{"data":{"name":"one"},"mark":{"type":"rule","color":"#b0b0b0","strokeWidth":1},"encoding":{"x":{"datum":-49.1},"y":{"datum":154.1612},"y2":{"datum":153.7505}}},
{"data":{"name":"one"},"mark":{"type":"rule","color":"#c8c8c8","strokeWidth":1},"encoding":{"x":{"datum":531.9},"y":{"datum":154.1612},"y2":{"datum":153.7505}}},
{"data":{"name":"one"},"mark":{"type":"rule","color":"#b8b8b8","strokeWidth":1.5},"encoding":{"x":{"datum":-50},"x2":{"datum":548.125},"y":{"datum":153.7515}}},
{"data":{"name":"ax"},"mark":{"type":"rule","color":"#c8c8c8","strokeWidth":1},"encoding":{"x":{"datum":531.9},"x2":{"datum":533.2},"y":{"field":"p","type":"quantitative"}}},
{"data":{"name":"ax"},"mark":{"type":"text","color":"#d2d2d2","fontSize":10,"align":"left","baseline":"middle"},"encoding":{"x":{"datum":534.2},"y":{"field":"p","type":"quantitative"},"text":{"field":"p","format":".3f"}}},
{"data":{"name":"bx"},"mark":{"type":"tick","orient":"horizontal","size":46,"thickness":13},"encoding":{"x":{"datum":540.9},"y":{"field":"p","type":"quantitative"},"fill":{"field":"s","type":"nominal","scale":{"domain":["154.106","154.000","153.835","153.806"],"range":["#000000","#b4b4b4","#ffffff","#ffff00"]}}}},
{"data":{"name":"bx"},"mark":{"type":"text","fontSize":10,"align":"left","baseline":"middle"},"encoding":{"x":{"datum":534.2},"y":{"field":"p","type":"quantitative"},"text":{"field":"s"},"color":{"field":"s","type":"nominal","scale":{"domain":["154.106","154.000","153.835","153.806"],"range":["#4a4a4a","#6a6a6a","#000000","#000000"]}}}},
{"data":{"name":"one"},"mark":{"type":"tick","orient":"horizontal","size":47,"thickness":15,"color":"#6c6c6c"},"encoding":{"x":{"datum":522.5},"y":{"datum":153.7585}}},
{"data":{"name":"one"},"mark":{"type":"text","color":"#ffffff","fontSize":14,"align":"center","baseline":"middle"},"encoding":{"x":{"datum":522.5},"y":{"datum":153.7585},"text":{"value":"W-pp"}}},
{"data":{"name":"one"},"mark":{"type":"point","shape":"triangle-down","filled":true,"size":45,"color":"#e6e6e6"},"encoding":{"x":{"datum":475},"y":{"datum":154.1595}}}
]},
{"width":1914,"height":210,
"layer":[
{"data":{"name":"g"},"mark":{"type":"rule","color":"#93a3a3","strokeWidth":1,"strokeDash":[3,3]},
 "encoding":{"x":{"field":"t","type":"quantitative","scale":{"domain":[-50,548.125],"nice":false,"zero":false}},"y":{"datum":122.6,"scale":{"domain":[-120.3,125],"nice":false,"zero":false}},"y2":{"datum":-120.3}}},
{"data":{"name":"one"},"mark":{"type":"rule","color":"#b8b8b8","strokeWidth":1.5},"encoding":{"x":{"datum":-49.1},"x2":{"datum":531.9},"y":{"datum":80}}},
{"data":{"name":"one"},"mark":{"type":"rule","color":"#b8b8b8","strokeWidth":1.5},"encoding":{"x":{"datum":-49.1},"x2":{"datum":531.9},"y":{"datum":-80}}},
{"data":{"name":"one"},"mark":{"type":"rule","color":"#1e90ff","strokeWidth":1.2,"strokeDash":[2,2]},"encoding":{"x":{"datum":-49.1},"x2":{"datum":531.9},"y":{"datum":0}}},
{"data":{"name":"rw"},"mark":{"type":"line","interpolate":"monotone","color":"#e4e4e4","strokeWidth":1},"encoding":{"x":{"field":"t","type":"quantitative"},"y":{"field":"v","type":"quantitative"}}},
{"data":{"name":"rr"},"mark":{"type":"line","interpolate":"monotone","color":"#a8163f","strokeWidth":1.2},"encoding":{"x":{"field":"t","type":"quantitative"},"y":{"field":"v","type":"quantitative"}}},
{"data":{"name":"rc"},"mark":{"type":"line","interpolate":"monotone","color":"#22dde6","strokeWidth":2},"encoding":{"x":{"field":"t","type":"quantitative"},"y":{"field":"v","type":"quantitative"}}},
{"data":{"name":"ry"},"mark":{"type":"line","interpolate":"monotone","color":"#eeee10","strokeWidth":2.5},"encoding":{"x":{"field":"t","type":"quantitative"},"y":{"field":"v","type":"quantitative"}}},
{"data":{"name":"one"},"mark":{"type":"rule","color":"#b8b8b8","strokeWidth":1.5},"encoding":{"x":{"datum":-50},"x2":{"datum":548.125},"y":{"datum":122.6}}},
{"data":{"name":"one"},"mark":{"type":"rule","color":"#b0b0b0","strokeWidth":1},"encoding":{"x":{"datum":-49.1},"y":{"datum":122.6},"y2":{"datum":-120.3}}},
{"data":{"name":"one"},"mark":{"type":"rule","color":"#c8c8c8","strokeWidth":1},"encoding":{"x":{"datum":531.9},"y":{"datum":122.6},"y2":{"datum":-120.3}}},
{"data":{"name":"one"},"mark":{"type":"text","color":"#d0d0d0","fontSize":11.5,"align":"left","baseline":"middle"},"encoding":{"x":{"datum":-48.6},"y":{"datum":111},"text":{"value":"JFX-RCI 31.6667 -78.5299 -93.6891 16.5340"}}},
{"data":{"name":"one"},"mark":{"type":"text","color":"#e6e6e6","fontSize":15,"align":"left","baseline":"middle"},"encoding":{"x":{"datum":-46.3},"y":{"datum":-85},"text":{"value":"USDJPY, M1"}}},
{"data":{"name":"one"},"mark":{"type":"text","color":"#ffffff","fontSize":25,"align":"left","baseline":"middle"},"encoding":{"x":{"datum":-46.6},"y":{"datum":-110.5},"text":{"value":"153.835"}}},
{"data":{"name":"ob"},"mark":{"type":"tick","orient":"horizontal","size":46,"thickness":13,"color":"#b4b4b4"},"encoding":{"x":{"datum":540.9},"y":{"field":"v","type":"quantitative"}}},
{"data":{"name":"ob"},"mark":{"type":"text","color":"#555555","fontSize":10,"align":"left","baseline":"middle"},"encoding":{"x":{"datum":534.2},"y":{"field":"v","type":"quantitative"},"text":{"field":"s"}}},
{"data":{"name":"ol"},"mark":{"type":"text","color":"#d2d2d2","fontSize":10,"align":"left","baseline":"middle"},"encoding":{"x":{"datum":534.2},"y":{"field":"v","type":"quantitative"},"text":{"field":"s"}}}
]},
{"width":1914,"height":22,
"layer":[
{"data":{"name":"one"},"mark":{"type":"rect","color":"#6a94ea"},"encoding":{"x":{"datum":60,"scale":{"domain":[-50,548.125],"nice":false,"zero":false}},"x2":{"datum":531.9},"y":{"datum":3,"scale":{"domain":[0,22],"nice":false,"zero":false,"reverse":true}},"y2":{"datum":14.5}}},
{"data":{"name":"one"},"mark":{"type":"rect","color":"#ffa020"},"encoding":{"x":{"datum":-49},"x2":{"datum":-46.3},"y":{"datum":6},"y2":{"datum":14.5}}},
{"data":{"name":"g"},"mark":{"type":"rule","color":"#93a3a3","strokeWidth":1,"strokeDash":[3,3]},"encoding":{"x":{"field":"t","type":"quantitative"},"y":{"datum":2},"y2":{"datum":15}}},
{"data":{"name":"one"},"mark":{"type":"rule","color":"#b8b8b8","strokeWidth":1.5},"encoding":{"x":{"datum":-50},"x2":{"datum":531.9},"y":{"datum":2}}},
{"data":{"name":"one"},"mark":{"type":"rule","color":"#c8c8c8","strokeWidth":1},"encoding":{"x":{"datum":-50},"x2":{"datum":531.9},"y":{"datum":15.3}}},
{"data":{"name":"one"},"mark":{"type":"rule","color":"#c8c8c8","strokeWidth":1},"encoding":{"x":{"datum":531.9},"y":{"datum":2},"y2":{"datum":15.3}}},
{"data":{"name":"hr"},"mark":{"type":"text","color":"#d6d6d6","fontSize":10,"align":"left","baseline":"middle","dx":-1},"encoding":{"x":{"field":"t","type":"quantitative"},"y":{"datum":9.5},"text":{"field":"s"}}},
{"data":{"name":"one"},"mark":{"type":"rect","color":"#d8d8d8"},"encoding":{"x":{"datum":-50},"x2":{"datum":548.125},"y":{"datum":16.5},"y2":{"datum":22}}}
]}
]
}
